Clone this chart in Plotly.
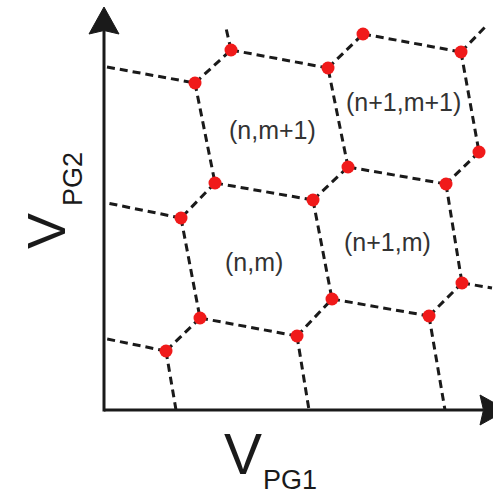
import plotly.graph_objects as go

# Charge-stability (honeycomb) schematic, gate voltages in arbitrary units
# Triple points (red dots)
dot_x = [9.1, 12.7, 22.4, 25.9, 35.7, 37.5, 34.2, 24.4, 11.1, 20.9,
         7.7, 9.6, 6.2, 19.3, 22.8, 32.5, 35.8]
dot_y = [32.7, 36.0, 34.2, 37.6, 35.8, 25.8, 22.6, 24.3, 22.7, 21.0,
         19.2, 9.2, 5.9, 7.4, 11.1, 9.4, 12.7]

# Open ends of boundary lines (no dot)
end_x = [0.3, 12.2, 38.4, 0.3, 0.3, 7.2, 20.5, 34.1, 38.8]
end_y = [34.3, 38.2, 38.6, 20.7, 7.1, 0.0, 0.0, 0.0, 12.2]

# Edges: ("d", i) = dot i, ("e", j) = open end j
edges = [
    (("e", 0), ("d", 0)), (("d", 0), ("d", 1)), (("d", 1), ("e", 1)),
    (("d", 1), ("d", 2)), (("d", 2), ("d", 3)), (("d", 3), ("d", 4)),
    (("d", 4), ("e", 2)), (("d", 4), ("d", 5)), (("d", 5), ("d", 6)),
    (("d", 6), ("d", 7)), (("d", 7), ("d", 2)), (("d", 0), ("d", 8)),
    (("d", 8), ("d", 9)), (("d", 9), ("d", 7)), (("d", 6), ("d", 16)),
    (("d", 8), ("d", 10)), (("d", 10), ("e", 3)), (("d", 10), ("d", 11)),
    (("d", 9), ("d", 14)), (("d", 11), ("d", 13)), (("d", 11), ("d", 12)),
    (("d", 12), ("e", 4)), (("d", 12), ("e", 5)), (("d", 13), ("d", 14)),
    (("d", 13), ("e", 6)), (("d", 14), ("d", 15)), (("d", 15), ("d", 16)),
    (("d", 15), ("e", 7)), (("d", 16), ("e", 8)),
]

# Charge-state labels
state_labels = ["(n,m+1)", "(n+1,m+1)", "(n,m)", "(n+1,m)"]
state_x = [16.8, 29.9, 15.0, 28.3]
state_y = [28.0, 30.8, 14.8, 16.8]

# Axis extents (arrow tips)
x_tip = 40.3
y_tip = 40.3


def pt(ref):
    kind, i = ref
    if kind == "d":
        return dot_x[i], dot_y[i]
    return end_x[i], end_y[i]


lx, ly = [], []
for a, b in edges:
    xa, ya = pt(a)
    xb, yb = pt(b)
    lx += [xa, xb, None]
    ly += [ya, yb, None]

fig = go.Figure()
fig.add_trace(go.Scatter(
    x=lx, y=ly, mode="lines",
    line=dict(color="#1a1a1a", width=3, dash="8px,5px"),
    hoverinfo="skip", cliponaxis=False,
))
fig.add_trace(go.Scatter(
    x=dot_x, y=dot_y, mode="markers",
    marker=dict(color="#f01a1a", size=13, line=dict(width=0)),
    hoverinfo="skip", cliponaxis=False,
))

# axis lines and arrowheads (decoration)
hl, hw, notch = 2.7, 1.5, 0.35
axcol = "#1a1a1a"
shapes = [
    dict(type="line", xref="x", yref="y", x0=0, y0=0, x1=x_tip - hl + notch, y1=0,
         line=dict(color=axcol, width=3)),
    dict(type="line", xref="x", yref="y", x0=0, y0=-0.15, x1=0, y1=y_tip - hl + notch,
         line=dict(color=axcol, width=3)),
    dict(type="path", xref="x", yref="y",
         path=(f"M {x_tip},0 L {x_tip - hl},{hw} L {x_tip - hl + notch},0 "
               f"L {x_tip - hl},{-hw} Z"),
         fillcolor=axcol, line=dict(color=axcol, width=1)),
    dict(type="path", xref="x", yref="y",
         path=(f"M 0,{y_tip} L {-hw},{y_tip - hl} L 0,{y_tip - hl + notch} "
               f"L {hw},{y_tip - hl} Z"),
         fillcolor=axcol, line=dict(color=axcol, width=1)),
]

font_main = "Liberation Sans, Arial, sans-serif"
ann = []
for t, x, y in zip(state_labels, state_x, state_y):
    ann.append(dict(x=x, y=y, xref="x", yref="y", text=t, showarrow=False,
                    font=dict(family=font_main, size=25, color="#333333")))

# axis titles
ann.append(dict(x=13.9, y=-4.4, xref="x", yref="y", text="V", showarrow=False,
                font=dict(family=font_main, size=57, color="#1a1a1a")))
ann.append(dict(x=18.6, y=-7.0, xref="x", yref="y", text="PG1", showarrow=False,
                font=dict(family=font_main, size=27, color="#1a1a1a")))
ann.append(dict(x=-5.8, y=17.9, xref="x", yref="y", text="V", showarrow=False,
                textangle=-90,
                font=dict(family=font_main, size=54, color="#1a1a1a")))
ann.append(dict(x=-3.1, y=23.1, xref="x", yref="y", text="PG2", showarrow=False,
                textangle=-90,
                font=dict(family=font_main, size=27, color="#1a1a1a")))

fig.update_layout(
    width=493, height=495,
    margin=dict(l=0, r=0, t=0, b=0),
    paper_bgcolor="white", plot_bgcolor="white",
    showlegend=False,
    xaxis=dict(range=[-10.4, 38.9], visible=False, fixedrange=True),
    yaxis=dict(range=[-8.5, 41.0], visible=False, fixedrange=True),
    annotations=ann,
    shapes=shapes,
)

fig.write_html("out.html")
